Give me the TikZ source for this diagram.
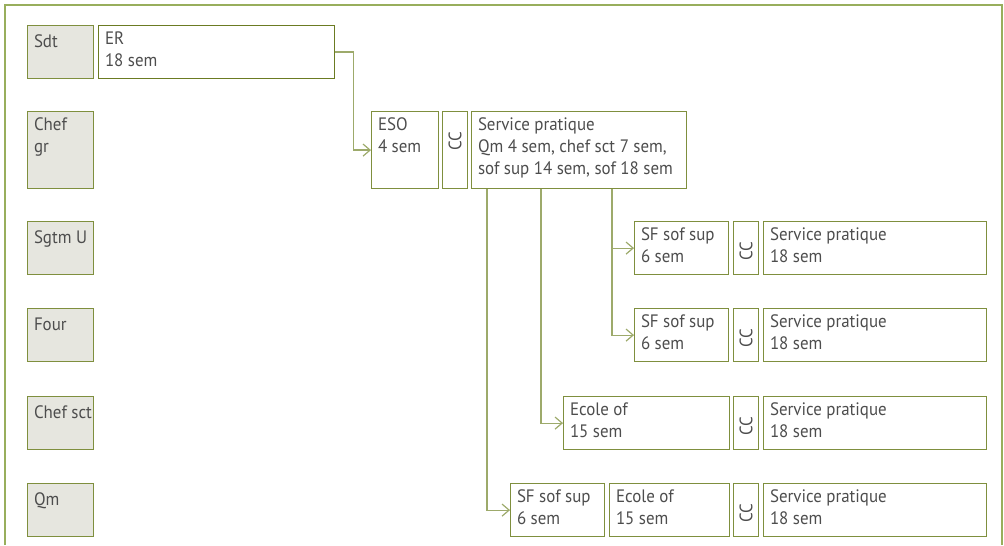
\documentclass[tikz,border=0pt]{standalone}
\usepackage{fontspec}
\newfontfamily\boxfont{PT Sans}[FakeStretch=0.94]
\usetikzlibrary{arrows.meta}

\definecolor{olivedk}{HTML}{6B7B22}
\definecolor{olivebox}{HTML}{7F8F3E}
\definecolor{olivelink}{HTML}{9DAA6B}
\definecolor{framegreen}{HTML}{98AE5C}
\definecolor{rolefill}{HTML}{E6E6DF}
\definecolor{textgray}{HTML}{4D4D4D}

\begin{document}
\begin{tikzpicture}[x=0.5pt, y=-0.5pt, >={Straight Barb[length=3.5pt,width=6pt]},
    cell/.style={draw=olivebox, line width=0.6pt, inner sep=0pt, anchor=north west, minimum height=26.5pt},
    role/.style={cell, fill=rolefill, minimum width=33pt},
    tall/.style={minimum height=38.5pt},
    txt/.style={anchor=north west, xshift=3.3pt, yshift=-3.3pt, inner sep=0pt, align=left, text=textgray, font=\boxfont\fontsize{9}{11}\selectfont, execute at begin node=\strut},
    cctxt/.style={rotate=90, anchor=east, inner sep=0pt, text=textgray, font=\boxfont\fontsize{9}{11}\selectfont},
    link/.style={->, draw=olivelink, line width=0.6pt}]

    \useasboundingbox (0,0) rectangle (1004,545);
    \draw[framegreen, line width=1pt] (5,545) -- (5,5) -- (1002,5) -- (1002,545);

    % ranks
    \node[role, label={[txt]north west:Sdt}] (sdt) at (27,25) {};
    \node[role, tall, label={[txt]north west:{Chef\\gr}}] (chefgr) at (27,111) {};
    \node[role, label={[txt]north west:Sgtm U}] (sgtm) at (27,221) {};
    \node[role, label={[txt]north west:Four}] (four) at (27,308) {};
    \node[role, label={[txt]north west:Chef sct}] (chefsct) at (27,396) {};
    \node[role, label={[txt]north west:Qm}] (qm) at (27,483) {};

    % basic track
    \node[cell, draw=olivedk, minimum width=118pt, label={[txt]north west:{ER\\18 sem}}] (er) at (98,25) {};
    \node[cell, tall, minimum width=33.5pt, label={[txt]north west:{ESO\\4 sem}}] (eso) at (371,111) {};
    \node[cell, tall, minimum width=12.5pt] (cc1) at (442,111) {};
    \node[cell, tall, minimum width=107.5pt, label={[txt]north west:{Service pratique\\Qm 4 sem, chef sct 7 sem,\\sof sup 14 sem, sof 18 sem}}] (sp1) at (471,111) {};

    % sgtm U
    \node[cell, minimum width=47pt, label={[txt]north west:{SF sof sup\\6 sem}}] (sf1) at (634,221) {};
    \node[cell, minimum width=12.5pt] (cc2) at (733,221) {};
    \node[cell, minimum width=111.5pt, label={[txt]north west:{Service pratique\\18 sem}}] (sp2) at (763,221) {};

    % four
    \node[cell, minimum width=47pt, label={[txt]north west:{SF sof sup\\6 sem}}] (sf2) at (634,308) {};
    \node[cell, minimum width=12.5pt] (cc3) at (733,308) {};
    \node[cell, minimum width=111.5pt, label={[txt]north west:{Service pratique\\18 sem}}] (sp3) at (763,308) {};

    % chef sct
    \node[cell, minimum width=83pt, label={[txt]north west:{Ecole of\\15 sem}}] (ec1) at (563,396) {};
    \node[cell, minimum width=12.5pt] (cc4) at (733,396) {};
    \node[cell, minimum width=111.5pt, label={[txt]north west:{Service pratique\\18 sem}}] (sp4) at (763,396) {};

    % qm
    \node[cell, minimum width=47pt, label={[txt]north west:{SF sof sup\\6 sem}}] (sf3) at (510,483) {};
    \node[cell, minimum width=60pt, label={[txt]north west:{Ecole of\\15 sem}}] (ec2) at (609,483) {};
    \node[cell, minimum width=12.5pt] (cc5) at (733,483) {};
    \node[cell, minimum width=111.5pt, label={[txt]north west:{Service pratique\\18 sem}}] (sp5) at (763,483) {};

    \node[cctxt] (cc1-t) at ([yshift=-10pt]cc1.north) {CC};
    \node[cctxt] (cc2-t) at ([yshift=-10pt]cc2.north) {CC};
    \node[cctxt] (cc3-t) at ([yshift=-10pt]cc3.north) {CC};
    \node[cctxt] (cc4-t) at ([yshift=-10pt]cc4.north) {CC};
    \node[cctxt] (cc5-t) at ([yshift=-10pt]cc5.north) {CC};

    \draw[link] (er.east) -- ++(18,0) |- (eso.west);
    \draw[link] ([xshift=70.5pt]sp1.south west) |- (sf1.west);
    \draw[link] ([xshift=70.5pt]sp1.south west) |- (sf2.west);
    \draw[link] ([xshift=35pt]sp1.south west) |- (ec1.west);
    \draw[link] ([xshift=8pt]sp1.south west) |- (sf3.west);

\end{tikzpicture}
\end{document}
